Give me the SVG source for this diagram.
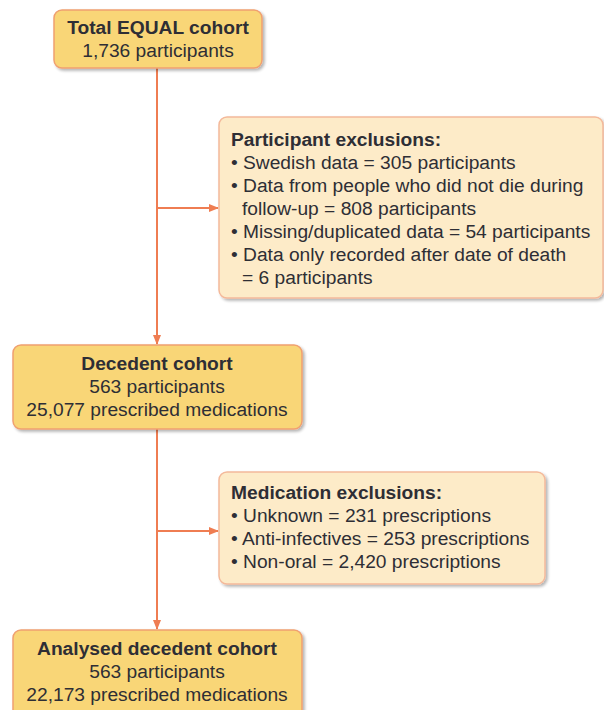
<svg xmlns="http://www.w3.org/2000/svg" width="604" height="710" viewBox="0 0 604 710">
<defs>
<filter id="sh" x="-10%" y="-10%" width="130%" height="130%">
<feGaussianBlur in="SourceAlpha" stdDeviation="1.5"/>
<feOffset dx="2" dy="2" result="b"/>
<feComponentTransfer><feFuncA type="linear" slope="0.3"/></feComponentTransfer>
<feMerge><feMergeNode/><feMergeNode in="SourceGraphic"/></feMerge>
</filter>
<marker id="ah" markerWidth="10" markerHeight="10" refX="9" refY="5" orient="auto" markerUnits="userSpaceOnUse">
<path d="M0,1 L10,5 L0,9 Z" fill="#ef7d52"/>
</marker>
</defs>
<style>
.main{fill:#f9d677;stroke:#f0a070;stroke-width:1.5}
.excl{fill:#fdebc8;stroke:#f4b99a;stroke-width:1.5}
text{font-family:"Liberation Sans",Arial,sans-serif;font-size:19.2px;fill:#2e2e35}
.b{font-weight:bold}
.c{text-anchor:middle}
.ln{stroke:#ef7d52;stroke-width:2;fill:none}
</style>
<rect width="604" height="710" fill="#ffffff"/>
<g id="connectors">
<path class="ln" d="M157,68 V344" marker-end="url(#ah)"/>
<path class="ln" d="M157,208 H218" marker-end="url(#ah)"/>
<path class="ln" d="M157,429 V629" marker-end="url(#ah)"/>
<path class="ln" d="M157,531 H218" marker-end="url(#ah)"/>
</g>
<g id="total">
<rect class="main" x="54" y="10" width="208" height="58" rx="8" filter="url(#sh)"/>
<text class="c b" x="158" y="34">Total EQUAL cohort</text>
<text class="c" x="158" y="57">1,736 participants</text>
</g>
<g id="participant-exclusions">
<rect class="excl" x="219" y="117" width="384" height="181" rx="8" filter="url(#sh)"/>
<text class="b" x="231" y="146">Participant exclusions:</text>
<text x="231" y="169">• Swedish data = 305 participants</text>
<text x="231" y="192">• Data from people who did not die during</text>
<text x="242" y="215">follow-up = 808 participants</text>
<text x="231" y="238">• Missing/duplicated data = 54 participants</text>
<text x="231" y="261">• Data only recorded after date of death</text>
<text x="242" y="284">= 6 participants</text>
</g>
<g id="decedent">
<rect class="main" x="13" y="345" width="289" height="84" rx="8" filter="url(#sh)"/>
<text class="c b" x="157" y="370">Decedent cohort</text>
<text class="c" x="157" y="393">563 participants</text>
<text class="c" x="157" y="416">25,077 prescribed medications</text>
</g>
<g id="medication-exclusions">
<rect class="excl" x="219" y="472" width="326" height="112" rx="8" filter="url(#sh)"/>
<text class="b" x="231" y="499">Medication exclusions:</text>
<text x="231" y="522">• Unknown = 231 prescriptions</text>
<text x="231" y="545">• Anti-infectives = 253 prescriptions</text>
<text x="231" y="568">• Non-oral = 2,420 prescriptions</text>
</g>
<g id="analysed">
<rect class="main" x="13" y="630" width="289" height="90" rx="8" filter="url(#sh)"/>
<text class="c b" x="157" y="655">Analysed decedent cohort</text>
<text class="c" x="157" y="678">563 participants</text>
<text class="c" x="157" y="701">22,173 prescribed medications</text>
</g>
</svg>
